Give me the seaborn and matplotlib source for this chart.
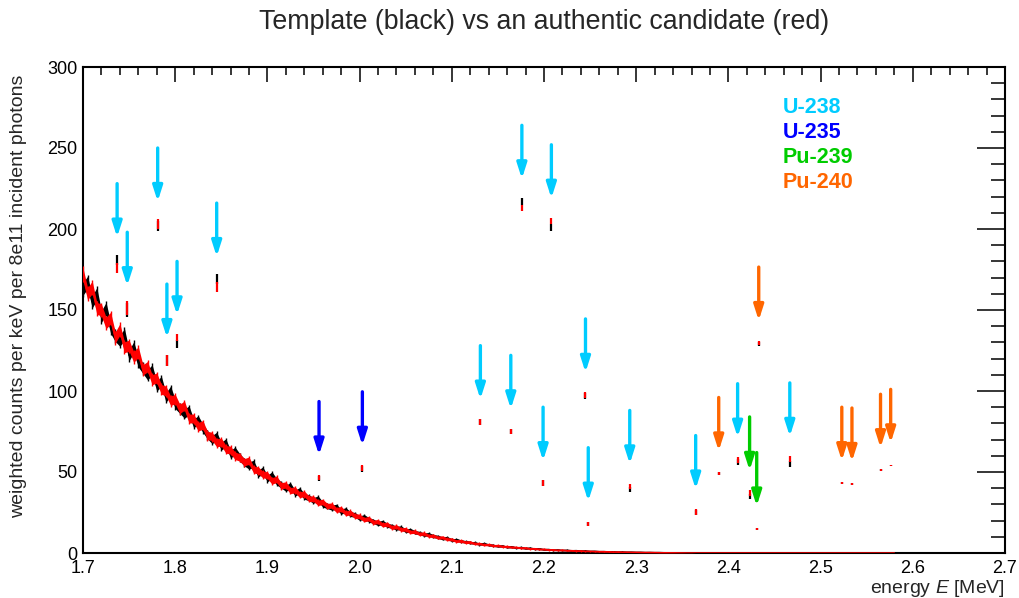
import numpy as np
import pandas as pd
import matplotlib
matplotlib.use("Agg")
import matplotlib.pyplot as plt
import seaborn as sns
from matplotlib.ticker import MultipleLocator

# ---------------- data ----------------
energy_start = 1.700      # MeV, first bin centre
energy_step = 0.005       # MeV

template_counts = [
    163, 167, 155, 160, 146, 151, 139, 134, 131, 135,
    122, 127, 118, 114, 110, 113, 103, 106, 96, 100,
    92, 89, 86, 88, 80, 82, 77, 73, 70, 72,
    66, 68, 61, 63, 59, 56, 54, 55, 49, 51,
    46, 48, 44, 42, 40, 41.5, 37, 38.5, 35, 34,
    32.5, 33.5, 30, 29, 28, 28.5, 25.5, 26.5, 24, 23.5,
    21.5, 22.3, 20.5, 19.5, 18.2, 18.9, 17.1, 16.5, 15.3, 15.6,
    13.7, 14.1, 12.8, 12.3, 11.3, 11.6, 10.4, 10.0, 9.0, 9.3,
    7.9, 8.2, 7.3, 6.9, 6.4, 6.2, 5.5, 5.7, 5.0, 4.7,
    4.2, 4.3, 3.6, 3.8, 3.2, 3.4, 2.8, 3.0, 2.5, 2.6,
    2.1, 2.2, 1.8, 1.9, 1.6, 1.7, 1.4, 1.5, 1.2, 1.3,
    1.0, 1.1, 0.85, 0.9, 0.7, 0.8, 0.6, 0.65, 0.5, 0.55,
    0.4, 0.45, 0.3, 0.35, 0.25, 0.3, 0.2, 0.2, 0.15, 0.15,
    0.1, 0.1, 0.05, 0.05, 0, 0, 0, 0, 0, 0,
    0, 0, 0, 0, 0, 0, 0, 0, 0, 0,
    0, 0, 0, 0, 0, 0, 0, 0, 0, 0,
    0, 0, 0, 0, 0, 0, 0, 0, 0, 0,
    0, 0, 0, 0, 0, 0, 0,
]

candidate_counts = [
    172, 160, 164, 151, 150, 142, 145, 133, 138, 127,
    128, 121, 124, 113, 115, 107, 108, 101, 100, 94,
    95, 89, 91, 83, 83, 78, 79, 72.5, 72, 68,
    68.5, 64, 63.5, 60, 59, 56, 57, 51.5, 51, 48.5,
    48, 44.5, 45.5, 41.5, 42, 38.5, 39, 36, 36.5, 33.5,
    33.5, 31, 31.5, 29, 29.3, 26.5, 27.2, 24.5, 25, 22.8,
    22.6, 20.6, 21.2, 19, 19.4, 17.4, 17.8, 15.8, 16.2, 14.5,
    14.6, 13, 13.2, 11.8, 12, 10.6, 10.7, 9.5, 9.6, 8.5,
    8.4, 7.3, 7.5, 6.6, 6.7, 5.8, 5.8, 5.1, 5.2, 4.5,
    4.6, 4.0, 4.0, 3.5, 3.5, 3.1, 3.1, 2.7, 2.7, 2.3,
    2.3, 2.0, 2.0, 1.7, 1.8, 1.5, 1.5, 1.3, 1.3, 1.1,
    1.1, 0.95, 0.9, 0.8, 0.8, 0.65, 0.65, 0.55, 0.55, 0.45,
    0.45, 0.35, 0.35, 0.3, 0.3, 0.2, 0.2, 0.15, 0.15, 0.1,
    0.1, 0.05, 0.05, 0, 0, 0, 0, 0, 0, 0,
    0, 0, 0, 0, 0, 0, 0, 0, 0, 0,
    0, 0, 0, 0, 0, 0, 0, 0, 0, 0,
    0, 0, 0, 0, 0, 0, 0, 0, 0, 0,
    0, 0, 0, 0, 0, 0, 0,
]

peak_energy = [1.737, 1.748, 1.781, 1.791, 1.802, 1.845, 1.956, 2.003,
               2.131, 2.164, 2.176, 2.199, 2.208, 2.245, 2.248, 2.293,
               2.3645, 2.3895, 2.410, 2.423, 2.4307, 2.4329, 2.4666,
               2.523, 2.534, 2.565, 2.576]
peak_template = [181, 150, 202, 119, 129, 169, 46, 52,
                 81, 75, 217, 43, 201, 97, 18, 39,
                 25, 49, 56, 35, 15, 129, 55,
                 43, 42.5, 51, 54]
peak_candidate = [176, 151, 203, 119, 133, 164, 46.5, 52.5,
                  81, 75, 213, 43, 205, 97.5, 18, 41,
                  25.5, 49, 57.5, 37, 15, 129.5, 58,
                  43, 42.5, 51, 54]
peak_error = [3.0, 4.3, 3.1, 3.4, 2.3, 3.0, 1.5, 2.0,
              1.8, 1.8, 2.0, 1.8, 2.0, 1.8, 1.2, 1.5,
              1.8, 0.9, 1.8, 1.6, 0.6, 1.2, 2.0,
              0.6, 0.6, 0.6, 0.6]
peak_isotope = ["U-238", "U-238", "U-238", "U-238", "U-238", "U-238", "U-235", "U-235",
                "U-238", "U-238", "U-238", "U-238", "U-238", "U-238", "U-238", "U-238",
                "U-238", "Pu-240", "U-238", "Pu-239", "Pu-239", "Pu-240", "U-238",
                "Pu-240", "Pu-240", "Pu-240", "Pu-240"]

isotope_names = ["U-238", "U-235", "Pu-239", "Pu-240"]
isotope_colors = ["#00ccff", "#0000ff", "#00cc00", "#ff6600"]

title_text = "Template (black) vs an authentic candidate (red)"
x_label = "energy $E$ [MeV]"
y_label = "weighted counts per keV per 8e11 incident photons"

# ---------------- style ----------------
sns.set_theme(style="white")
plt.rcParams["font.family"] = ["Liberation Sans", "DejaVu Sans"]
plt.rcParams["mathtext.fontset"] = "custom"
plt.rcParams["mathtext.rm"] = "Liberation Sans"
plt.rcParams["mathtext.it"] = "Liberation Sans:italic"

W, H = 1019, 598
fig = plt.figure(figsize=(W / 100, H / 100), dpi=100)
ax = fig.add_axes([83 / W, (H - 553) / H, 922 / W, 486 / H])

n = len(template_counts)
energy = np.round(energy_start + energy_step * np.arange(n), 4)
cont = pd.DataFrame({"energy": energy,
                     "template": template_counts,
                     "candidate": candidate_counts})
err_scale = 0.30   # statistical error size relative to sqrt(counts)

for col, colour in (("template", "black"), ("candidate", "red")):
    vals = cont[col].to_numpy(dtype=float)
    err = err_scale * np.sqrt(vals)
    ax.fill_between(cont["energy"], vals - err, vals + err, color=colour,
                    lw=0, zorder=3)
    sns.lineplot(data=cont, x="energy", y=col, color=colour, lw=1.0,
                 estimator=None, sort=False, ax=ax, zorder=3)
    ax.errorbar(cont["energy"], vals, yerr=err * 1.25, fmt="none",
                ecolor=colour, elinewidth=1.0, capsize=0, zorder=3)
    peaks = peak_template if col == "template" else peak_candidate
    ax.errorbar(peak_energy, peaks, yerr=peak_error, fmt="none",
                ecolor=colour, elinewidth=1.6, capsize=0, zorder=3)

# arrows marking isotope lines
color_of = dict(zip(isotope_names, isotope_colors))
arrow_gap, arrow_len = 14, 33
for e, b, r, iso in zip(peak_energy, peak_template, peak_candidate, peak_isotope):
    tip = max(b, r) + arrow_gap
    ax.annotate("", xy=(e, tip), xytext=(e, tip + arrow_len),
                arrowprops=dict(arrowstyle="-|>,head_length=0.5,head_width=0.16",
                                color=color_of[iso], lw=2.4, mutation_scale=18,
                                shrinkA=0, shrinkB=0))

# isotope legend
for i, (name, col) in enumerate(zip(isotope_names, isotope_colors)):
    ax.text(0.759, 0.916 - i * 0.0515, name, color=col, fontsize=15.5,
            fontweight="bold", transform=ax.transAxes, ha="left", va="center")

ax.set_xlim(1.7, 2.7)
ax.set_ylim(0, 300)
ax.xaxis.set_major_locator(MultipleLocator(0.1))
ax.xaxis.set_minor_locator(MultipleLocator(0.02))
ax.yaxis.set_major_locator(MultipleLocator(50))
ax.yaxis.set_minor_locator(MultipleLocator(10))
ax.xaxis.set_major_formatter(plt.FuncFormatter(lambda v, p: f"{v:.1f}"))
ax.yaxis.set_major_formatter(plt.FuncFormatter(lambda v, p: f"{v:.0f}"))

ax.tick_params(which="both", direction="in", top=True, right=True,
               width=1.1, color="black", labelsize=13, labelcolor="black")
ax.tick_params(axis="x", which="major", length=11, pad=5)
ax.tick_params(axis="x", which="minor", length=5.5)
ax.tick_params(axis="y", which="major", length=20, pad=4)
ax.tick_params(axis="y", which="minor", length=10)
for s in ax.spines.values():
    s.set_linewidth(1.5)
    s.set_color("black")
    s.set_visible(True)

ax.set_xlabel(x_label, fontsize=14, loc="right")
ax.xaxis.set_label_coords(1.0, -0.052)
ax.xaxis.label.set_va("top")
ax.set_ylabel(y_label, fontsize=14, loc="top")
ax.yaxis.set_label_coords(-0.061, 1 - 8 / 486)

fig.text(544 / W, 1 - 22 / H, title_text, fontsize=19.3, ha="center", va="center")

fig.savefig("out.png", dpi=100)
